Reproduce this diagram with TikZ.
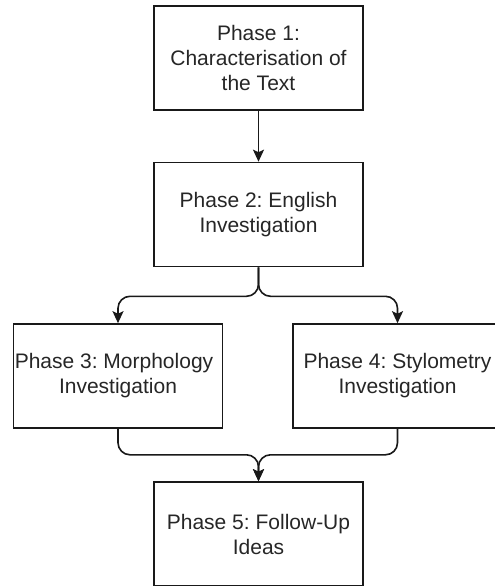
\documentclass[tikz,border=0pt]{standalone}
\usepackage{fontspec}
\setmainfont{Liberation Sans}
\usetikzlibrary{arrows.meta}
\frenchspacing
\begin{document}
\begin{tikzpicture}[x=1pt,y=-1pt,
  phasebox/.style={draw=black!90, line width=1.6pt, rectangle, inner sep=0pt,
    minimum width=209pt, minimum height=104pt, align=center,
    text=black!85, font=\fontsize{21}{25}\selectfont\frenchspacing},
  conn/.style={draw=black!90, line width=1.6pt, rounded corners=12pt,
    -{Stealth[length=12pt,width=11pt,inset=2.5pt]}}]
\useasboundingbox (0,0) rectangle (495,586);
\node[phasebox] (p1) at (258.5,58) {Phase 1:\\Characterisation of\\the Text};
\node[phasebox] (p2) at (258.5,214.5) {Phase 2: English\\Investigation};
\node[phasebox] (p3) at (118,376) {\hspace*{-8pt}Phase 3: Morphology\\Investigation};
\node[phasebox] (p4) at (397.5,376) {Phase 4: Stylometry\\Investigation};
\node[phasebox] (p5) at (258.5,534) {Phase 5: Follow-Up\\Ideas};
\draw[conn] (p1.south) -- (p2.north);
\draw[conn] (p2.south) -- ++(0,29) -| (p3.north);
\draw[conn] (p2.south) -- ++(0,29) -| (p4.north);
\draw[conn] (p3.south) -- ++(0,26) -| (p5.north);
\draw[conn] (p4.south) -- ++(0,26) -| (p5.north);
\end{tikzpicture}
\end{document}
